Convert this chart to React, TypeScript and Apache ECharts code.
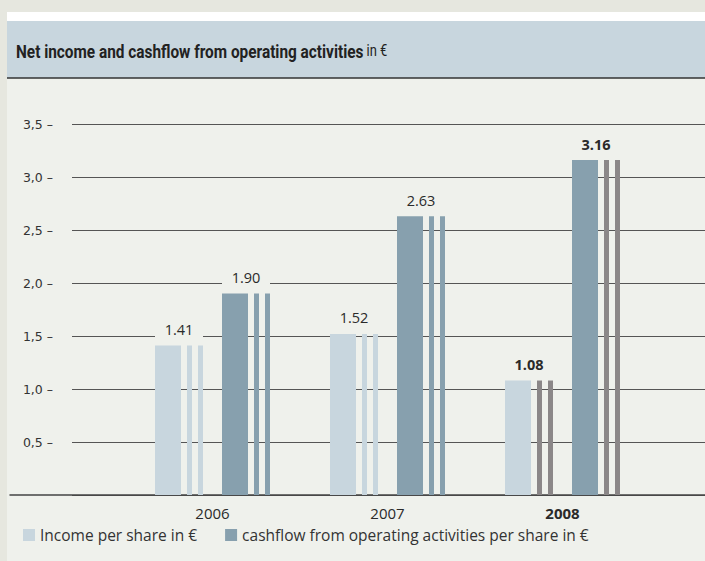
import React, { useEffect, useRef } from 'react';
import * as echarts from 'echarts';

const years = ['2006', '2007', '2008'];
const incomePerShare = [1.41, 1.52, 1.08];
const cashflowPerShare = [1.9, 2.63, 3.16];
const yTicks = [0, 0.5, 1, 1.5, 2, 2.5, 3, 3.5];
const highlightYear = '2008';
const seriesNames = ['Income per share in €', 'cashflow from operating activities per share in €'];
const titleMain = 'Net income and cashflow from operating activities';
const titleUnit = 'in €';

const C = {
  outer: '#e6e7df',
  panel: '#eff1ec',
  header: '#c8d6de',
  light: '#c8d6de',
  dark: '#87a0ae',
  gray: '#8b8788',
  text: '#2a2a2a',
  grid: '#555555',
};

const FONT = '"Open Sans", sans-serif';

export default function App() {
  const ref = useRef<HTMLDivElement>(null);

  useEffect(() => {
    const chart = echarts.init(ref.current!, null, { renderer: 'svg' });
    const yMin = yTicks[0];
    const yMax = yTicks[yTicks.length - 1];
    const yInt = yTicks[1] - yTicks[0];

    const makeRender = (offset: number, color: string) => (params: any, api: any) => {
      const idx = api.value(0);
      const val = api.value(1);
      const top = api.coord([idx, val]);
      const base = api.coord([idx, 0]);
      const x0 = top[0] + offset;
      const h = base[1] - top[1];
      const hl = years[idx] === highlightYear;
      const stripe = hl ? C.gray : color;
      return {
        type: 'group',
        children: [
          { type: 'rect', shape: { x: x0, y: top[1], width: 26, height: h }, style: { fill: color } },
          { type: 'rect', shape: { x: x0 + 32, y: top[1], width: 5, height: h }, style: { fill: stripe } },
          { type: 'rect', shape: { x: x0 + 43, y: top[1], width: 5, height: h }, style: { fill: stripe } },
          { type: 'rect', shape: { x: x0, y: top[1] - 26, width: 48, height: 20 }, style: { fill: C.panel } },
          {
            type: 'text',
            x: x0 + 24,
            y: top[1] - 16,
            style: {
              text: Number(val).toFixed(2),
              align: 'center',
              verticalAlign: 'middle',
              fontSize: 14.5,
              fontFamily: FONT,
              fontWeight: hl ? 'bold' : 'normal',
              fill: C.text,
            },
          },
        ],
      };
    };

    const option: any = {
      animation: false,
      grid: [
        { left: 72, right: 0, top: 124, bottom: 66 },
        { left: 125, right: 55, top: 124, bottom: 66 },
        { left: 10, right: 0, top: 124, bottom: 66 },
      ],
      xAxis: [
        { gridIndex: 0, type: 'value', min: 0, max: 1, show: false },
        {
          gridIndex: 1,
          type: 'category',
          data: years,
          axisLine: { show: false },
          axisTick: { show: false },
          axisLabel: {
            margin: 10,
            fontSize: 15,
            fontFamily: FONT,
            color: C.text,
            formatter: (v: string) => (v === highlightYear ? `{b|${v}}` : v),
            rich: { b: { fontSize: 15, fontFamily: FONT, fontWeight: 'bold', color: C.text } },
          },
        },
        {
          gridIndex: 2,
          type: 'value',
          min: 0,
          max: 1,
          axisLine: { show: true, lineStyle: { color: '#444', width: 1.5 } },
          axisTick: { show: false },
          axisLabel: { show: false },
          splitLine: { show: false },
        },
      ],
      yAxis: [
        {
          gridIndex: 0,
          type: 'value',
          min: yMin,
          max: yMax,
          interval: yInt,
          axisLine: { show: false },
          axisTick: { show: false },
          splitLine: { show: true, lineStyle: { color: C.grid, width: 1 } },
          axisLabel: {
            margin: 19,
            fontSize: 12.5,
            fontFamily: '"DejaVu Sans", sans-serif',
            color: '#333',
            formatter: (v: number) => (v === 0 ? '' : v.toFixed(1).replace('.', ',') + ' –'),
          },
        },
        { gridIndex: 1, type: 'value', min: yMin, max: yMax, interval: yInt, show: false },
        { gridIndex: 2, type: 'value', min: yMin, max: yMax, interval: yInt, show: false },
      ],
      legend: {
        data: seriesNames,
        left: 18,
        top: 522,
        icon: 'rect',
        itemWidth: 12,
        itemHeight: 12,
        itemGap: 28,
        textStyle: { fontSize: 15.5, fontFamily: FONT, color: '#333' },
        selectedMode: false,
      },
      graphic: [
        { type: 'rect', z: -100, shape: { x: 0, y: 0, width: 705, height: 561 }, style: { fill: C.outer } },
        { type: 'rect', z: -99, shape: { x: 7, y: 12, width: 698, height: 549 }, style: { fill: C.panel } },
        { type: 'rect', z: -98, shape: { x: 7, y: 12, width: 698, height: 9 }, style: { fill: '#ffffff' } },
        { type: 'rect', z: -98, shape: { x: 7, y: 21, width: 698, height: 57 }, style: { fill: C.header } },
        { type: 'line', z: -97, shape: { x1: 7, y1: 78, x2: 705, y2: 78 }, style: { stroke: '#333', lineWidth: 1.5 } },
        {
          type: 'text',
          x: 16,
          y: 51,
          scaleX: 0.81,
          style: {
            text: `{a|${titleMain}} {b|${titleUnit}}`,
            verticalAlign: 'middle',
            rich: {
              a: { fontSize: 19, fontWeight: 'bold', fontFamily: 'Roboto, sans-serif', fill: '#222' },
              b: { fontSize: 16, fontFamily: 'Roboto, sans-serif', fill: '#222' },
            },
          },
        },
      ],
      series: [
        {
          name: seriesNames[0],
          type: 'custom',
          xAxisIndex: 1,
          yAxisIndex: 1,
          itemStyle: { color: C.light },
          clip: false,
          silent: true,
          encode: { x: 0, y: 1 },
          data: years.map((_, i) => [i, incomePerShare[i]]),
          renderItem: makeRender(-57.5, C.light),
        },
        {
          name: seriesNames[1],
          type: 'custom',
          xAxisIndex: 1,
          yAxisIndex: 1,
          itemStyle: { color: C.dark },
          clip: false,
          silent: true,
          encode: { x: 0, y: 1 },
          data: years.map((_, i) => [i, cashflowPerShare[i]]),
          renderItem: makeRender(9.5, C.dark),
        },
      ],
    };
    chart.setOption(option);
    return () => chart.dispose();
  }, []);

  return (
    <div
      ref={ref}
      style={{ position: 'absolute', left: 0, top: 0, width: 705, height: 561 }}
    />
  );
}
